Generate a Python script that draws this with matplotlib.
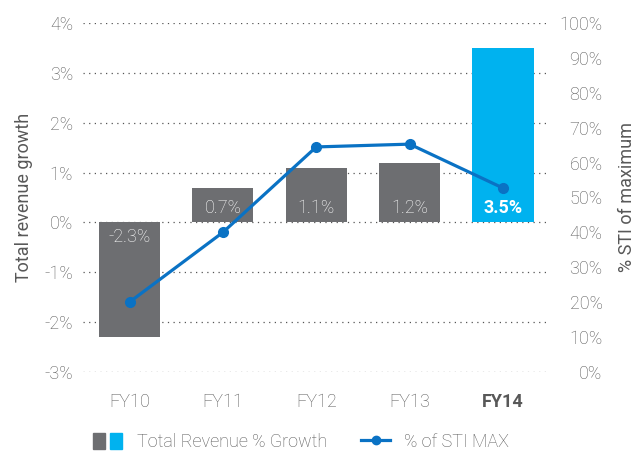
import matplotlib.pyplot as plt
from matplotlib.patches import Patch
from matplotlib.lines import Line2D
from matplotlib.legend_handler import HandlerTuple

years = ["FY10", "FY11", "FY12", "FY13", "FY14"]
revenue_growth = [-2.3, 0.7, 1.1, 1.2, 3.5]
sti_max = [20.0, 40.0, 64.5, 65.3, 52.7]
left_ticks = [-3, -2, -1, 0, 1, 2, 3, 4]
right_ticks = [0, 10, 20, 30, 40, 50, 60, 70, 80, 90, 100]

GREY = "#6d6e71"
CYAN = "#00b2ef"
BLUE = "#0a72c4"
TXT = "#585858"

plt.rcParams['font.family'] = ['Roboto', 'DejaVu Sans']
plt.rcParams['font.weight'] = 'light'

fig = plt.figure(figsize=(6.37, 4.54), dpi=100)
ax = fig.add_axes([0.130, 0.181, 0.733, 0.768])
ax2 = ax.twinx()

x = list(range(len(years)))
colors = [GREY] * 4 + [CYAN]
ax.bar(x, revenue_growth, width=0.655, color=colors, zorder=2)

for xi, v in zip(x, revenue_growth):
    bold = xi == len(years) - 1
    if v >= 0:
        ax.text(xi, 0.1, "%.1f%%" % v, ha='center', va='bottom', color='white',
                fontsize=13, fontweight='bold' if bold else 'light', zorder=3)
    else:
        ax.text(xi, -0.12, "%.1f%%" % v, ha='center', va='top', color='white',
                fontsize=13, fontweight='light', zorder=3)

for t in left_ticks:
    ax.axhline(t, color='#555555', linewidth=0.9, linestyle=(0, (1, 3.5)), zorder=1)

ax.set_xlim(-0.5, 4.5)
ax.set_ylim(-3, 4)
ax.set_yticks(left_ticks)
ax.set_yticklabels(["%d%%" % t for t in left_ticks])
ax.set_xticks(x)
ax.set_xticklabels(years)
ax.get_xticklabels()[-1].set_fontweight('bold')
ax.get_xticklabels()[-1].set_color('#3a3a3a')
ax.tick_params(axis='y', length=0, pad=7, labelsize=13, labelcolor=TXT)
ax.tick_params(axis='x', length=0, pad=15, labelsize=13, labelcolor=TXT)
ax.set_ylabel("Total revenue growth", fontsize=13, color=TXT, labelpad=8)

ax2.plot(x, sti_max, color=BLUE, linewidth=2.3, marker='o', markersize=7, zorder=4)
ax2.set_ylim(0, 100)
ax2.set_yticks(right_ticks)
ax2.set_yticklabels(["%d%%" % t for t in right_ticks])
ax2.tick_params(axis='y', length=0, pad=38, labelsize=13, labelcolor=TXT)
for lab in ax2.get_yticklabels():
    lab.set_horizontalalignment('right')
ax2.set_ylabel("% STI of maximum", fontsize=13, color=TXT, labelpad=11)

for a in (ax, ax2):
    for s in a.spines.values():
        s.set_visible(False)

handles = [(Patch(color=GREY), Patch(color=CYAN)),
           Line2D([], [], color=BLUE, linewidth=2.3, marker='o', markersize=6)]
labels = ["Total Revenue % Growth", "% of STI MAX"]
fig.legend(handles, labels, loc='lower center', bbox_to_anchor=(0.473, -0.03), ncol=2,
           frameon=False, fontsize=13, labelcolor=TXT, columnspacing=1.9,
           handler_map={tuple: HandlerTuple(ndivide=None, pad=0.25)},
           handlelength=1.6, handleheight=1.0, handletextpad=0.8)

fig.savefig("out.png", dpi=100)
